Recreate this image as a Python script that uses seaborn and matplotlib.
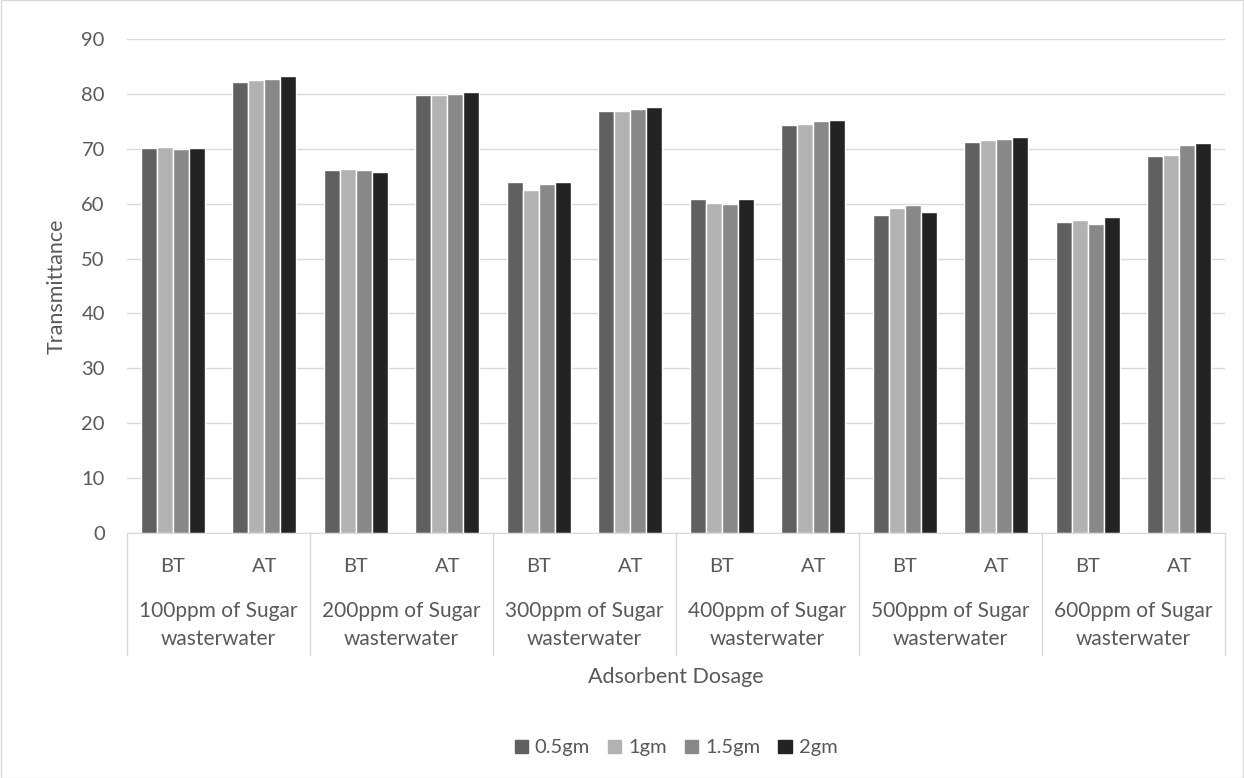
import matplotlib
matplotlib.use("Agg")
import matplotlib.pyplot as plt
import seaborn as sns
import pandas as pd
from matplotlib.lines import Line2D
from matplotlib.patches import Rectangle

# data
groups = ["100ppm of Sugar\nwasterwater", "200ppm of Sugar\nwasterwater", "300ppm of Sugar\nwasterwater",
          "400ppm of Sugar\nwasterwater", "500ppm of Sugar\nwasterwater", "600ppm of Sugar\nwasterwater"]
stages = ["BT", "AT"]
dosages = ["0.5gm", "1gm", "1.5gm", "2gm"]
vals_05 = [70.2, 82.2, 66.2, 79.8, 64.0, 76.9, 60.8, 74.3, 58.0, 71.3, 56.6, 68.6]
vals_1 = [70.4, 82.5, 66.4, 79.8, 62.5, 76.9, 60.2, 74.6, 59.2, 71.6, 57.1, 68.8]
vals_15 = [70.0, 82.8, 66.2, 80.0, 63.6, 77.3, 60.0, 75.0, 59.8, 71.8, 56.3, 70.6]
vals_2 = [70.2, 83.2, 65.8, 80.3, 64.0, 77.6, 60.8, 75.2, 58.5, 72.2, 57.5, 71.0]
colors = ["#606060", "#b2b2b2", "#888888", "#232323"]

cats = [f"{g}|{s}" for g in groups for s in stages]
rows = []
for d, vals in zip(dosages, [vals_05, vals_1, vals_15, vals_2]):
    for c, v in zip(cats, vals):
        rows.append({"cat": c, "Dosage": d, "Transmittance": v})
df = pd.DataFrame(rows)

sns.set_style("white")
plt.rcParams["font.family"] = ["Lato", "DejaVu Sans"]
text_col = "#595959"
fs = 14.5

fig = plt.figure(figsize=(12.44, 7.78), dpi=100)
ax = fig.add_axes([127 / 1244, 1 - 533 / 778, 1098 / 1244, 494 / 778])

sns.barplot(data=df, x="cat", y="Transmittance", hue="Dosage", order=cats, hue_order=dosages,
            palette=colors, width=0.7, edgecolor="white", linewidth=1, saturation=1, ax=ax, legend=False)

ax.set_ylim(0, 90)
ax.set_xlim(-0.5, len(cats) - 0.5)
ax.set_yticks(range(0, 91, 10))
ax.yaxis.grid(True, color="#d9d9d9", linewidth=1)
ax.set_axisbelow(True)
for s in ["top", "right", "left"]:
    ax.spines[s].set_visible(False)
ax.spines["bottom"].set_color("#d9d9d9")
ax.tick_params(axis="y", length=0, labelsize=fs, labelcolor=text_col, pad=16)
ax.tick_params(axis="x", length=0, labelsize=fs, labelcolor=text_col, pad=18)
ax.set_xticks(range(len(cats)))
ax.set_xticklabels([c.split("|")[1] for c in cats])
ax.set_xlabel("")
ax.set_ylabel("")
fig.text(57 / 1244, 1 - 286 / 778, "Transmittance", rotation=90, ha="center", va="center",
         fontsize=fs + 1, color=text_col)

# multi-level category axis
trans = ax.get_xaxis_transform()
sep_bottom = -(655 - 533) / 494
for i in range(len(groups) + 1):
    ax.add_line(Line2D([i * 2 - 0.5] * 2, [0, sep_bottom], transform=trans, color="#d9d9d9",
                       linewidth=1, clip_on=False))
for i, g in enumerate(groups):
    ax.text(i * 2 + 0.5, -(625 - 533) / 494, g, transform=trans, ha="center", va="center", fontsize=15,
            color=text_col, linespacing=1.5)

fig.text(676 / 1244, 1 - 677 / 778, "Adsorbent Dosage", ha="center", va="center", fontsize=fs + 1,
         color=text_col)

handles = [Rectangle((0, 0), 1, 1, color=c) for c in colors]
fig.legend(handles, dosages, loc="center", bbox_to_anchor=(676 / 1244, 1 - 748 / 778), ncol=4, frameon=False,
           fontsize=fs, handlelength=0.65, handleheight=0.65, handletextpad=0.35, columnspacing=0.9,
           labelcolor=text_col)

fig.patches.append(Rectangle((0.0005, 0.0005), 0.999, 0.999, transform=fig.transFigure, fill=False,
                             edgecolor="#d9d9d9", linewidth=1))

fig.savefig("out.png", dpi=100)
